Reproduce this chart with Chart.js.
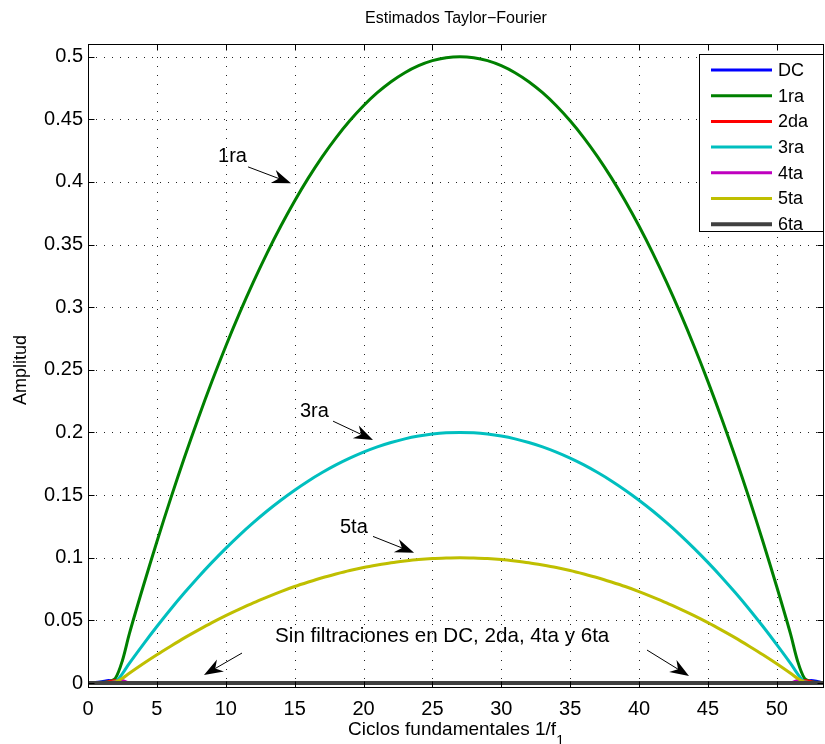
<!DOCTYPE html>
<html>
<head>
<meta charset="utf-8">
<title>Estimados Taylor-Fourier</title>
<script src="https://cdn.jsdelivr.net/npm/chart.js@4/dist/chart.umd.min.js"></script>
<style>
	html, body { margin: 0; padding: 0; background: #fff; }
	#grafica { display: block; }
</style>
</head>
<body>
<canvas id="grafica" width="825" height="744"></canvas>
<script>
// Ciclos fundamentales (eje x) en los que se leyeron las amplitudes
const ciclos = [0, 1, 1.5, 2, 2.5,
	3, 4, 5, 6, 7, 8, 9, 10, 11, 12, 13, 14, 15, 16, 17, 18, 19, 20, 21, 22, 23, 24, 25, 26, 27,
	28, 29, 30, 31, 32, 33, 34, 35, 36, 37, 38, 39, 40, 41, 42, 43, 44, 45, 46, 47, 48, 49, 50, 51,
	51.5, 52, 52.5, 53, 53.4];

// Amplitudes estimadas por armonico (mismo orden que ciclos)
const amplitudDC = [0, 0.001, 0.002, 0.001, 0,
	0, 0, 0, 0, 0, 0, 0, 0, 0, 0, 0, 0, 0, 0, 0, 0, 0, 0, 0, 0, 0, 0, 0, 0, 0,
	0, 0, 0, 0, 0, 0, 0, 0, 0, 0, 0, 0, 0, 0, 0, 0, 0, 0, 0, 0, 0, 0, 0, 0,
	0, 0.001, 0.002, 0.001, 0];
const amplitud1ra = [0, 0.0005, 0.001, 0.004, 0.018,
	0.0392, 0.0768, 0.1128, 0.1472, 0.18, 0.2112, 0.2408, 0.2688, 0.2952, 0.32, 0.3432, 0.3648, 0.3848,
	0.4032, 0.42, 0.4352, 0.4488, 0.4608, 0.4712, 0.48, 0.4872, 0.4928, 0.4968, 0.4992, 0.5,
	0.4992, 0.4968, 0.4928, 0.4872, 0.48, 0.4712, 0.4608, 0.4488, 0.4352, 0.42, 0.4032, 0.3848,
	0.3648, 0.3432, 0.32, 0.2952, 0.2688, 0.2408, 0.2112, 0.18, 0.1472, 0.1128, 0.0768, 0.0392,
	0.018, 0.004, 0.001, 0.0005, 0];
const amplitud2da = [0, 0, 0.001, 0.002, 0.001,
	0, 0, 0, 0, 0, 0, 0, 0, 0, 0, 0, 0, 0, 0, 0, 0, 0, 0, 0, 0, 0, 0, 0, 0, 0,
	0, 0, 0, 0, 0, 0, 0, 0, 0, 0, 0, 0, 0, 0, 0, 0, 0, 0, 0, 0, 0, 0, 0, 0,
	0.001, 0.002, 0.001, 0, 0];
const amplitud3ra = [0, 0.0002, 0.0004, 0.001, 0.0075,
	0.0157, 0.0307, 0.0451, 0.0589, 0.072, 0.0845, 0.0963, 0.1075, 0.1181, 0.128, 0.1373, 0.1459, 0.1539,
	0.1613, 0.168, 0.1741, 0.1795, 0.1843, 0.1885, 0.192, 0.1949, 0.1971, 0.1987, 0.1997, 0.2,
	0.1997, 0.1987, 0.1971, 0.1949, 0.192, 0.1885, 0.1843, 0.1795, 0.1741, 0.168, 0.1613, 0.1539,
	0.1459, 0.1373, 0.128, 0.1181, 0.1075, 0.0963, 0.0845, 0.072, 0.0589, 0.0451, 0.0307, 0.0157,
	0.0075, 0.001, 0.0004, 0.0002, 0];
const amplitud4ta = [0, 0, 0, 0.001, 0.002,
	0, 0, 0, 0, 0, 0, 0, 0, 0, 0, 0, 0, 0, 0, 0, 0, 0, 0, 0, 0, 0, 0, 0, 0, 0,
	0, 0, 0, 0, 0, 0, 0, 0, 0, 0, 0, 0, 0, 0, 0, 0, 0, 0, 0, 0, 0, 0, 0, 0,
	0.002, 0.001, 0, 0, 0];
const amplitud5ta = [0, 0.0001, 0.0002, 0.0008, 0.0038,
	0.0078, 0.0154, 0.0226, 0.0294, 0.036, 0.0422, 0.0482, 0.0538, 0.059, 0.064, 0.0686, 0.073, 0.077,
	0.0806, 0.084, 0.087, 0.0898, 0.0922, 0.0942, 0.096, 0.0974, 0.0986, 0.0994, 0.0998, 0.1,
	0.0998, 0.0994, 0.0986, 0.0974, 0.096, 0.0942, 0.0922, 0.0898, 0.087, 0.084, 0.0806, 0.077,
	0.073, 0.0686, 0.064, 0.059, 0.0538, 0.0482, 0.0422, 0.036, 0.0294, 0.0226, 0.0154, 0.0078,
	0.0038, 0.0008, 0.0002, 0.0001, 0];
const amplitud6ta = [0, 0, 0, 0, 0,
	0, 0, 0, 0, 0, 0, 0, 0, 0, 0, 0, 0, 0, 0, 0, 0, 0, 0, 0, 0, 0, 0, 0, 0, 0,
	0, 0, 0, 0, 0, 0, 0, 0, 0, 0, 0, 0, 0, 0, 0, 0, 0, 0, 0, 0, 0, 0, 0, 0,
	0, 0, 0, 0, 0];

const nombres = ['DC', '1ra', '2da', '3ra', '4ta', '5ta', '6ta'];
const amplitudes = [amplitudDC, amplitud1ra, amplitud2da, amplitud3ra, amplitud4ta, amplitud5ta, amplitud6ta];
const colores = ['#0000ff', '#008000', '#ff0000', '#00bfbf', '#bf00bf', '#bfbf00', '#404040'];

const xTicks = [0, 5, 10, 15, 20, 25, 30, 35, 40, 45, 50];
const yTicks = [0, 0.05, 0.1, 0.15, 0.2, 0.25, 0.3, 0.35, 0.4, 0.45, 0.5];

// Anotaciones con flecha, en coordenadas de los datos
const anotaciones = [
	{ texto: '1ra', x: 9.44, y: 0.420, desde: [11.62, 0.412], hasta: [14.74, 0.399] },
	{ texto: '3ra', x: 15.39, y: 0.2165, desde: [17.79, 0.209], hasta: [20.69, 0.194] },
	{ texto: '5ta', x: 18.29, y: 0.1245, desde: [20.69, 0.117], hasta: [23.67, 0.104] }
];
const notaFiltraciones = { texto: 'Sin filtraciones en DC, 2da, 4ta y 6ta', x: 13.58, y: 0.0375 };
const flechasFiltraciones = [
	{ desde: [11.18, 0.0239], hasta: [8.42, 0.0064] },
	{ desde: [40.58, 0.0263], hasta: [43.63, 0.0056] }
];

const FUENTE = '"Liberation Sans", Arial, Helvetica, sans-serif';

function flecha (ctx, x0, y0, x1, y1) {
	const ang = Math.atan2(y1 - y0, x1 - x0);
	const cos = Math.cos(ang), sin = Math.sin(ang);
	const largo = 19, ancho = 7, muesca = 13;
	ctx.beginPath();
	ctx.moveTo(x0, y0);
	ctx.lineTo(x1 - cos * muesca, y1 - sin * muesca);
	ctx.stroke();
	const bx = x1 - cos * largo, by = y1 - sin * largo;
	ctx.beginPath();
	ctx.moveTo(x1, y1);
	ctx.lineTo(bx - sin * ancho, by + cos * ancho);
	ctx.lineTo(x1 - cos * muesca, y1 - sin * muesca);
	ctx.lineTo(bx + sin * ancho, by - cos * ancho);
	ctx.closePath();
	ctx.fill();
}

const ejesMatlab = {
	id: 'ejesMatlab',
	beforeDatasetsDraw (chart) {
		const { ctx, chartArea: a, scales: { x, y } } = chart;
		ctx.save();
		ctx.strokeStyle = '#222';
		ctx.lineWidth = 1;
		// rejilla punteada
		ctx.setLineDash([1, 8]);
		xTicks.forEach((v) => {
			const px = Math.round(x.getPixelForValue(v)) + 0.5;
			ctx.beginPath();
			ctx.moveTo(px, a.bottom);
			ctx.lineTo(px, a.top);
			ctx.stroke();
		});
		ctx.setLineDash([1, 7]);
		yTicks.forEach((v) => {
			const py = Math.round(y.getPixelForValue(v)) + 0.5;
			ctx.beginPath();
			ctx.moveTo(a.left, py);
			ctx.lineTo(a.right, py);
			ctx.stroke();
		});
		ctx.restore();
	},
	afterDatasetsDraw (chart) {
		const { ctx, chartArea: a, scales: { x, y } } = chart;
		ctx.save();
		ctx.strokeStyle = '#000';
		ctx.fillStyle = '#000';
		ctx.lineWidth = 1;

		// caja y marcas hacia adentro
		const l = Math.round(a.left) + 0.5, t = Math.round(a.top) + 0.5;
		const r = Math.round(a.right) - 0.5, b = Math.round(a.bottom) - 0.5;
		ctx.strokeRect(l, t, r - l, b - t);
		const tick = 6;
		ctx.beginPath();
		xTicks.forEach((v) => {
			const px = Math.round(x.getPixelForValue(v)) + 0.5;
			ctx.moveTo(px, b); ctx.lineTo(px, b - tick);
			ctx.moveTo(px, t); ctx.lineTo(px, t + tick);
		});
		yTicks.forEach((v) => {
			const py = Math.round(y.getPixelForValue(v)) + 0.5;
			ctx.moveTo(l, py); ctx.lineTo(l + tick, py);
			ctx.moveTo(r, py); ctx.lineTo(r - tick, py);
		});
		ctx.stroke();

		// anotaciones
		ctx.font = '20px ' + FUENTE;
		ctx.textBaseline = 'middle';
		ctx.textAlign = 'left';
		anotaciones.forEach((n) => {
			ctx.fillText(n.texto, x.getPixelForValue(n.x), y.getPixelForValue(n.y));
			flecha(ctx, x.getPixelForValue(n.desde[0]), y.getPixelForValue(n.desde[1]),
				x.getPixelForValue(n.hasta[0]), y.getPixelForValue(n.hasta[1]));
		});
		ctx.font = '20.6px ' + FUENTE;
		ctx.fillText(notaFiltraciones.texto, x.getPixelForValue(notaFiltraciones.x), y.getPixelForValue(notaFiltraciones.y));
		flechasFiltraciones.forEach((f) => {
			flecha(ctx, x.getPixelForValue(f.desde[0]), y.getPixelForValue(f.desde[1]),
				x.getPixelForValue(f.hasta[0]), y.getPixelForValue(f.hasta[1]));
		});

		// leyenda dentro del area
		const lx = 699.5, ly = 54.5, lw = 124, lh = 177;
		ctx.fillStyle = '#fff';
		ctx.fillRect(lx, ly, lw, lh);
		ctx.strokeRect(lx, ly, lw, lh);
		ctx.font = '18px ' + FUENTE;
		chart.data.datasets.forEach((ds, i) => {
			const ry = 70 + i * 25.7;
			ctx.strokeStyle = ds.borderColor;
			ctx.lineWidth = ds.borderWidth;
			ctx.beginPath();
			ctx.moveTo(711, ry);
			ctx.lineTo(772, ry);
			ctx.stroke();
			ctx.fillStyle = '#000';
			ctx.fillText(ds.label, 778, ry + 1);
		});

		// titulo y etiquetas de ejes
		const cx = (a.left + a.right) / 2;
		ctx.fillStyle = '#000';
		ctx.textAlign = 'center';
		ctx.font = '16px ' + FUENTE;
		ctx.fillText('Estimados Taylor\u2212Fourier', cx, 19);

		ctx.font = '19px ' + FUENTE;
		ctx.textBaseline = 'alphabetic';
		const principal = 'Ciclos fundamentales 1/f';
		const wPrin = ctx.measureText(principal).width;
		ctx.font = '14px ' + FUENTE;
		const wSub = ctx.measureText('1').width;
		const x0 = cx - (wPrin + wSub) / 2;
		ctx.textAlign = 'left';
		ctx.font = '19px ' + FUENTE;
		ctx.fillText(principal, x0, 735);
		ctx.font = '14px ' + FUENTE;
		ctx.fillText('1', x0 + wPrin, 745);

		ctx.translate(26, (a.top + a.bottom) / 2 + 4);
		ctx.rotate(-Math.PI / 2);
		ctx.textAlign = 'center';
		ctx.font = '18px ' + FUENTE;
		ctx.fillText('Amplitud', 0, 0);
		ctx.restore();
	}
};

const datasets = nombres.map((nombre, i) => ({
	label: nombre,
	data: ciclos.map((c, j) => ({ x: c, y: amplitudes[i][j] })),
	borderColor: colores[i],
	backgroundColor: colores[i],
	borderWidth: nombre === '6ta' ? 4 : 3,
	pointRadius: 0,
	tension: 0.3,
	order: nombres.length - i
}));

const config = {
	type: 'line',
	data: { datasets: datasets },
	options: {
		responsive: false,
		animation: false,
		devicePixelRatio: 1,
		layout: { padding: { top: 44, right: 1, left: 0, bottom: 0 } },
		plugins: {
			legend: { display: false },
			tooltip: { enabled: false },
			title: { display: false }
		},
		scales: {
			x: {
				type: 'linear',
				min: 0,
				max: 53.43,
				grid: { display: false, drawTicks: false },
				border: { display: false },
				afterBuildTicks: (scale) => { scale.ticks = xTicks.map((v) => ({ value: v })); },
				afterFit: (scale) => { scale.height = 56; },
				ticks: {
					autoSkip: false,
					maxRotation: 0,
					padding: 9,
					color: '#000',
					font: { family: FUENTE, size: 20 }
				}
			},
			y: {
				type: 'linear',
				min: -0.004,
				max: 0.5101,
				grid: { display: false, drawTicks: false },
				border: { display: false },
				afterBuildTicks: (scale) => { scale.ticks = yTicks.map((v) => ({ value: v })); },
				afterFit: (scale) => { scale.width = 88; },
				ticks: {
					autoSkip: false,
					padding: 5,
					color: '#000',
					font: { family: FUENTE, size: 20 },
					callback: (v) => String(v)
				}
			}
		}
	},
	plugins: [ejesMatlab]
};

new Chart(document.getElementById('grafica'), config);
</script>
</body>
</html>
